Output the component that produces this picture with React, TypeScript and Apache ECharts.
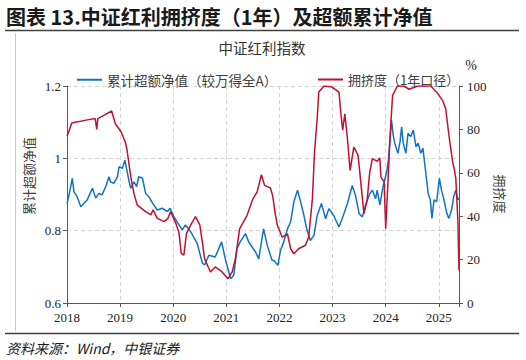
import { useEffect, useRef } from "react";
import * as echarts from "echarts";

// x positions are in decimal years (2018.5 = mid-2018)
const yearTicks = [2018, 2019, 2020, 2021, 2022, 2023, 2024, 2025];

const excessTimes = [
  2018.0, 2018.01, 2018.07, 2018.1, 2018.13, 2018.19, 2018.26, 2018.32, 2018.38, 2018.45, 2018.48,
  2018.54, 2018.6, 2018.66, 2018.73, 2018.79, 2018.82, 2018.88, 2018.95, 2018.98, 2019.04, 2019.09,
  2019.12, 2019.17, 2019.2, 2019.26, 2019.31, 2019.35, 2019.42, 2019.48, 2019.54, 2019.61, 2019.7,
  2019.79, 2019.89, 2019.94, 2020.01, 2020.11, 2020.17, 2020.23, 2020.33, 2020.45, 2020.55, 2020.59,
  2020.67, 2020.79, 2020.91, 2020.98, 2021.08, 2021.14, 2021.2, 2021.26, 2021.36,
  2021.42, 2021.55, 2021.61, 2021.7, 2021.77, 2021.86, 2021.89, 2021.97, 2022.02, 2022.08, 2022.15,
  2022.21, 2022.27, 2022.34, 2022.4, 2022.46, 2022.52, 2022.58, 2022.65, 2022.71, 2022.79, 2022.87,
  2022.93, 2023.02, 2023.12, 2023.18, 2023.28, 2023.37, 2023.43, 2023.5, 2023.56, 2023.62, 2023.7,
  2023.75, 2023.81, 2023.84, 2023.89, 2023.95, 2024.02, 2024.05, 2024.08, 2024.11, 2024.14, 2024.17,
  2024.23, 2024.27, 2024.3, 2024.33, 2024.38, 2024.42, 2024.47, 2024.52, 2024.57, 2024.61, 2024.66,
  2024.7, 2024.76, 2024.8, 2024.84, 2024.87, 2024.91, 2024.96, 2025.01, 2025.05, 2025.09, 2025.15,
  2025.19, 2025.24, 2025.28, 2025.32, 2025.36, 2025.38,
];
const excessValues = [
  0.875, 0.88, 0.922, 0.945, 0.908, 0.894, 0.866, 0.876, 0.885, 0.908, 0.917,
  0.89, 0.903, 0.899, 0.922, 0.949, 0.935, 0.931, 0.949, 0.977, 0.972, 0.995,
  0.972, 0.935, 0.917, 0.935, 0.922, 0.949, 0.945, 0.903, 0.894, 0.876, 0.857,
  0.862, 0.853, 0.862, 0.839, 0.816, 0.802, 0.816, 0.797, 0.765, 0.71, 0.705,
  0.732, 0.727, 0.769, 0.722, 0.667, 0.677, 0.75, 0.769, 0.792,
  0.769, 0.741, 0.722, 0.805, 0.76, 0.718, 0.718, 0.704, 0.746, 0.769, 0.805,
  0.824, 0.879, 0.912, 0.879, 0.842, 0.801, 0.773, 0.787, 0.842, 0.875, 0.833,
  0.861, 0.842, 0.81, 0.833, 0.875, 0.925, 0.898, 0.847, 0.838, 0.87, 0.902,
  0.912, 0.888, 0.912, 0.871, 0.922, 0.963, 0.995, 1.051, 1.106, 1.065, 1.042,
  1.014, 1.046, 1.087, 1.042, 1.014, 1.069, 1.06, 1.078, 1.032, 1.042, 1.014,
  1.028, 0.954, 0.903, 0.885, 0.834, 0.885, 0.88, 0.945, 0.912, 0.89, 0.848,
  0.834, 0.857, 0.894, 0.912, 0.885, 0.89,
];

const crowdTimes = [
  2018.0, 2018.02, 2018.09, 2018.41, 2018.53, 2018.56, 2018.58, 2018.72, 2018.84, 2018.91, 2019.02,
  2019.1, 2019.13, 2019.2, 2019.26, 2019.32, 2019.48, 2019.58, 2019.62, 2019.7, 2019.83, 2019.9,
  2019.95, 2020.05, 2020.11, 2020.15, 2020.2, 2020.25, 2020.33, 2020.42, 2020.5, 2020.56, 2020.59,
  2020.7, 2020.79,
  2020.92, 2021.03, 2021.11, 2021.17, 2021.25, 2021.39, 2021.5, 2021.58, 2021.66, 2021.72, 2021.83,
  2021.87, 2021.89, 2021.92, 2021.96, 2022.05, 2022.15, 2022.21, 2022.27, 2022.36, 2022.49, 2022.55,
  2022.62, 2022.66, 2022.71, 2022.74, 2022.84, 2022.99, 2023.12, 2023.16, 2023.19, 2023.23, 2023.28,
  2023.33, 2023.4, 2023.48, 2023.53, 2023.59, 2023.65, 2023.7, 2023.75, 2023.84, 2023.89, 2023.91,
  2023.97, 2024.0, 2024.06, 2024.09, 2024.13, 2024.22, 2024.34, 2024.44, 2024.6, 2024.85, 2024.98,
  2025.07, 2025.13, 2025.19, 2025.26, 2025.29, 2025.32, 2025.36, 2025.38,
];
const crowdValues = [
  77, 78, 83, 84.5, 85, 80, 85, 86.8, 88.5, 82.6, 78.8,
  74, 70.5, 58.2, 50.5, 45.2, 42.1, 40.6, 42.9, 39, 37.5, 39,
  42.1, 36.7, 32.1, 22.9, 22.1, 32.1, 36, 39.8, 36, 26, 20.4,
  14.3, 16.6,
  14.3, 11.2, 14.3, 20.4, 34.2, 40.4, 48, 51.2, 59.1, 54.2, 53,
  49.6, 46.5, 41.2, 35.8, 30.4, 31.9, 25, 22.7, 25, 26.6, 30.4,
  48, 69.6, 85, 97.2, 100, 99.5, 97.2, 86.5, 79.6, 87.2, 75.7,
  61.1, 71.9, 68, 55.8, 41.2, 47.3, 60.4, 66.5, 65.3, 66.8, 58,
  55.8, 34.2, 65, 80.3, 95.7, 100, 100, 98.5, 100, 100, 96.5,
  93.4, 89.5, 77.3, 65, 61.9, 57.3, 37.3, 15,
];

const xMin = yearTicks[0];
const xMax = 2025.38;

const SERIF = "'Liberation Serif', 'Noto Sans CJK SC', serif";
const CJK = "'Noto Sans CJK SC', 'Liberation Serif', sans-serif";

export default function App() {
  const ref = useRef<HTMLDivElement>(null);

  useEffect(() => {
    if (!ref.current) return;
    const chart = echarts.init(ref.current, undefined, { renderer: "svg" });
    const excessData = excessTimes.map((t, i) => [t, excessValues[i]]);
    const crowdData = crowdTimes.map((t, i) => [t, crowdValues[i]]);
    const axisColor = "#595959";
    const labelColor = "#262626";

    chart.setOption({
      animation: false,
      backgroundColor: "#ffffff",
      grid: { left: 67, right: 67, top: 86, bottom: 57, containLabel: false },
      legend: [
        {
          data: ["累计超额净值（较万得全A）"],
          left: 72,
          top: 68,
          icon: "rect",
          itemWidth: 25,
          itemHeight: 2,
          itemGap: 4,
          textStyle: { fontFamily: CJK, fontSize: 13.5, color: "#404040" },
        },
        {
          data: ["拥挤度（1年口径）"],
          left: 313,
          top: 68,
          icon: "rect",
          itemWidth: 25,
          itemHeight: 2,
          textStyle: { fontFamily: CJK, fontSize: 13, color: "#404040" },
        },
      ],
      xAxis: {
        type: "value",
        min: xMin,
        max: xMax,
        interval: 1,
        axisLine: { show: true, lineStyle: { color: axisColor, width: 1 } },
        axisTick: { show: true, length: 4, lineStyle: { color: axisColor } },
        axisLabel: {
          color: labelColor,
          fontFamily: SERIF,
          fontSize: 13,
          margin: 8,
          formatter: (v: number) =>
            Math.abs(v - Math.round(v)) < 1e-6 && yearTicks.includes(Math.round(v)) ? String(Math.round(v)) : "",
        },
        splitLine: { show: true, lineStyle: { color: "#D4D4D4", type: [4, 3], width: 1 } },
      },
      yAxis: [
        {
          type: "value",
          min: 0.6,
          max: 1.2,
          interval: 0.2,
          position: "left",
          axisLine: { show: true, lineStyle: { color: axisColor, width: 1 } },
          axisTick: { show: true, length: 4, lineStyle: { color: axisColor } },
          axisLabel: { color: labelColor, fontFamily: SERIF, fontSize: 13, margin: 6 },
          splitLine: { show: true, lineStyle: { color: "#D4D4D4", type: [4, 3], width: 1 } },
        },
        {
          type: "value",
          min: 0,
          max: 100,
          interval: 20,
          position: "right",
          axisLine: { show: true, lineStyle: { color: axisColor, width: 1 } },
          axisTick: { show: true, length: 4, lineStyle: { color: axisColor } },
          axisLabel: { color: labelColor, fontFamily: SERIF, fontSize: 13, margin: 8 },
          splitLine: { show: false },
        },
      ],
      series: [
        {
          name: "累计超额净值（较万得全A）",
          type: "line",
          yAxisIndex: 0,
          data: excessData,
          showSymbol: false,
          symbol: "none",
          lineStyle: { color: "#1272C4", width: 1.5 },
          itemStyle: { color: "#1272C4" },
        },
        {
          name: "拥挤度（1年口径）",
          type: "line",
          yAxisIndex: 1,
          data: crowdData,
          showSymbol: false,
          symbol: "none",
          lineStyle: { color: "#BE1230", width: 1.5 },
          itemStyle: { color: "#BE1230" },
        },
      ],
      graphic: [
        {
          type: "text",
          x: 6,
          y: 16,
          style: {
            text: "图表 13.中证红利拥挤度（1年）及超额累计净值",
            fontFamily: CJK,
            fontWeight: "bold",
            fontSize: 20,
            fill: "#1a1a1a",
            verticalAlign: "middle",
            align: "left",
          },
        },
        {
          type: "line",
          shape: { x1: 5, y1: 30.5, x2: 519, y2: 30.5 },
          style: { stroke: "#404040", lineWidth: 1.5 },
        },
        {
          type: "line",
          shape: { x1: 15.5, y1: 33, x2: 15.5, y2: 331 },
          style: { stroke: "#C8C8C8", lineWidth: 1 },
        },
        {
          type: "line",
          shape: { x1: 5, y1: 333.5, x2: 519, y2: 333.5 },
          style: { stroke: "#404040", lineWidth: 1.5 },
        },
        {
          type: "text",
          x: 6,
          y: 348,
          style: {
            text: "资料来源：Wind，中银证券",
            fontFamily: CJK,
            fontStyle: "italic",
            fontSize: 14,
            fill: "#1a1a1a",
            verticalAlign: "middle",
            align: "left",
          },
        },
        {
          type: "text",
          x: 262,
          y: 47,
          style: {
            text: "中证红利指数",
            fontFamily: CJK,
            fontSize: 14.5,
            fill: "#333333",
            verticalAlign: "middle",
            align: "center",
          },
        },
        {
          type: "text",
          x: 471,
          y: 65,
          style: {
            text: "%",
            fontFamily: SERIF,
            fontSize: 14,
            fill: labelColor,
            verticalAlign: "middle",
            align: "center",
          },
        },
        {
          type: "text",
          x: 28,
          y: 176,
          rotation: Math.PI / 2,
          style: {
            text: "累计超额净值",
            fontFamily: CJK,
            fontSize: 13,
            fill: "#404040",
            verticalAlign: "middle",
            align: "center",
          },
        },
        {
          type: "text",
          x: 500,
          y: 194,
          rotation: -Math.PI / 2,
          style: {
            text: "拥挤度",
            fontFamily: CJK,
            fontSize: 13,
            fill: "#404040",
            verticalAlign: "middle",
            align: "center",
          },
        },
      ],
    });

    return () => {
      chart.dispose();
    };
  }, []);

  return (
    <div
      ref={ref}
      style={{ position: "fixed", left: 0, top: 0, width: 526, height: 360, background: "#fff" }}
    />
  );
}
